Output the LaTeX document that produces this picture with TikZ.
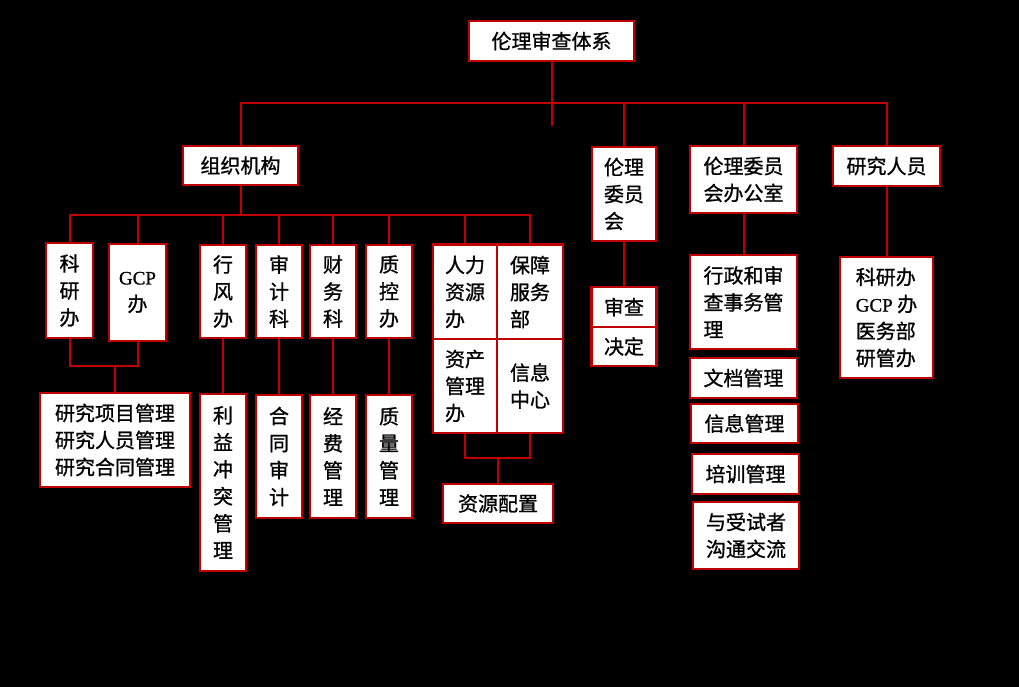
\documentclass[tikz,border=0pt]{standalone}
\usepackage{fontspec}
\setmainfont{Noto Sans CJK SC}[FakeBold=1]
\newfontfamily\latfont{Liberation Serif}[FakeBold=1]
\definecolor{linered}{RGB}{192,0,0}
\tikzset{
  box/.style={draw=linered, line width=2.5pt, fill=white, inner sep=0pt,
    align=left, font=\fontsize{20}{27}\selectfont},
  col/.style={box, minimum width=46pt},
  link/.style={draw=linered, line width=2pt},
}
\newcommand{\gcptext}{{\latfont\fontsize{19}{27}\selectfont GCP}}
\begin{document}
\begin{tikzpicture}[x=1pt,y=-1pt]
	\fill[black] (0,0) rectangle (1019,687);
	
	% top level
	\node[box, minimum width=165pt, minimum height=40pt] (top) at (551.5,41) {伦理审查体系};
	\node[box, minimum width=115pt, minimum height=39pt] (org) at (240.5,165.5) {组织机构};
	\node[box, minimum width=64pt, minimum height=94pt] (ec) at (624,194) {伦理\\委员\\会};
	\node[box, minimum width=107pt, minimum height=67pt] (office) at (743.5,179.5) {伦理委员\\会办公室};
	\node[box, minimum width=107pt, minimum height=40pt] (res) at (886.5,166) {研究人员};
	
	% departments
	\node[col, minimum width=47pt, minimum height=95pt] (kyb) at (69.5,290.5) {科\\研\\办};
	\node[box, align=center, minimum width=57pt, minimum height=97pt] (gcp) at (137.5,292.5) {\gcptext\\办};
	\node[col, minimum height=93pt] (xfb) at (223,291.5) {行\\风\\办};
	\node[col, minimum height=93pt] (sjk) at (279,291.5) {审\\计\\科};
	\node[col, minimum height=93pt] (cwk) at (333,291.5) {财\\务\\科};
	\node[col, minimum height=93pt] (zkb) at (389,291.5) {质\\控\\办};
	\node[box, minimum width=64pt, minimum height=95pt] (rlzy) at (465,292) {人力\\资源\\办};
	\node[box, minimum width=66pt, minimum height=95pt] (bzfw) at (530,292) {保障\\服务\\部};
	\node[box, minimum width=64pt, minimum height=94pt] (zcgl) at (465,386) {资产\\管理\\办};
	\node[box, minimum width=66pt, minimum height=94pt] (xxzx) at (530,386) {信息\\中心};
	
	% duties
	\node[box, minimum width=150pt, minimum height=94pt] (yjxm) at (115,440) {研究项目管理\\研究人员管理\\研究合同管理};
	\node[col, minimum height=177pt] (lyct) at (223,482.5) {利\\益\\冲\\突\\管\\理};
	\node[col, minimum height=123pt] (htsj) at (279,456.5) {合\\同\\审\\计};
	\node[col, minimum height=123pt] (jfgl) at (333,456.5) {经\\费\\管\\理};
	\node[col, minimum height=123pt] (zlgl) at (389,456.5) {质\\量\\管\\理};
	\node[box, minimum width=110pt, minimum height=39pt] (zypz) at (498,503.5) {资源配置};
	
	\node[box, minimum width=65pt, minimum height=40pt] (sc) at (624,307) {审查};
	\node[box, minimum width=65pt, minimum height=39pt] (jd) at (624,346.5) {决定};
	
	\node[box, minimum width=107pt, minimum height=94pt] (xzsw) at (743.5,302) {行政和审\\查事务管\\理};
	\node[box, minimum width=107pt, minimum height=40pt] (wdgl) at (743.5,378) {文档管理};
	\node[box, minimum width=107pt, minimum height=39pt] (xxgl) at (744.5,423.5) {信息管理};
	\node[box, minimum width=107pt, minimum height=40pt] (pxgl) at (745.5,474) {培训管理};
	\node[box, minimum width=106pt, minimum height=67pt] (ysz) at (746,535.5) {与受试者\\沟通交流};
	
	\node[box, minimum width=93pt, minimum height=121pt] (kyb2) at (886.5,317.5) {科研办\\\gcptext{} 办\\医务部\\研管办};
	
	% connectors
	\coordinate (bus) at (0,103);
	\coordinate (obus) at (0,215);
	\coordinate (kbus) at (0,366);
	\coordinate (gbus) at (0,458);
	
	\draw[link] (top.south) -- ([yshift=-64pt]top.south);
	\draw[link] (org.north) |- (bus -| res.north) -- (res.north);
	\draw[link] (ec.north) -- (ec.north |- bus);
	\draw[link] (office.north) -- (office.north |- bus);
	
	\draw[link] (org.south) -- (org.south |- obus);
	\draw[link] (kyb.north) |- (obus -| bzfw.north) -- (bzfw.north);
	\foreach \n in {gcp,xfb,sjk,cwk,zkb,rlzy}
		\draw[link] (\n.north) -- (\n.north |- obus);
	
	\draw[link] (kyb.south) |- (gcp.south |- kbus) -- (gcp.south);
	\draw[link] (yjxm.north) -- (yjxm.north |- kbus);
	\draw[link] (xfb.south) -- (lyct.north);
	\draw[link] (sjk.south) -- (htsj.north);
	\draw[link] (cwk.south) -- (jfgl.north);
	\draw[link] (zkb.south) -- (zlgl.north);
	\draw[link] (zcgl.south) |- (xxzx.south |- gbus) -- (xxzx.south);
	\draw[link] (zypz.north) -- (zypz.north |- gbus);
	
	\draw[link] (ec.south) -- (sc.north);
	\draw[link] (office.south) -- (xzsw.north);
	\draw[link] (res.south) -- (kyb2.north);
\end{tikzpicture}
\end{document}
